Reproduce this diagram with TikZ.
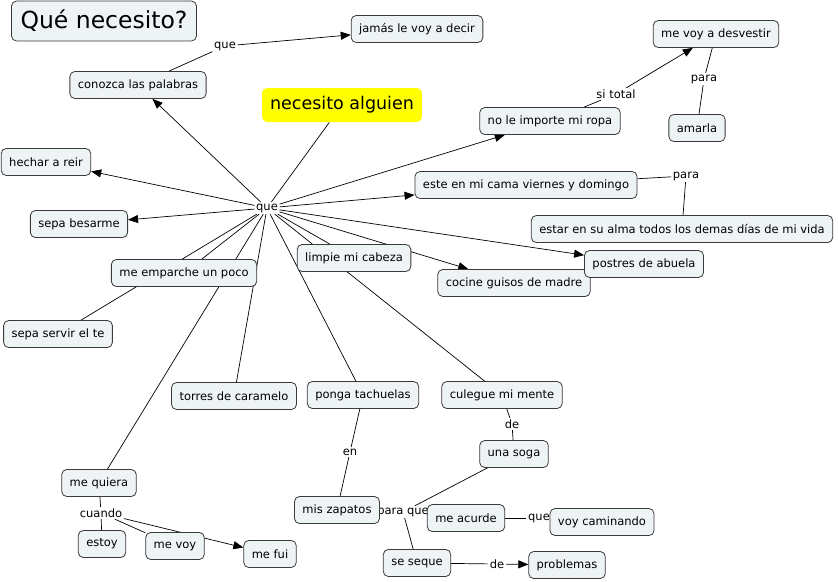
\documentclass[tikz,border=0pt]{standalone}
\usepackage{fontspec}
\setmainfont{DejaVu Sans}
\usetikzlibrary{arrows.meta,backgrounds}
\definecolor{boxfill}{HTML}{EEF3F5}
\definecolor{boxline}{HTML}{3A3A3A}
\definecolor{hiyellow}{HTML}{FFFF00}
\begin{document}
\begin{tikzpicture}[x=1pt,y=-1pt,
  concept/.style={draw=boxline, fill=boxfill, rounded corners=5pt, line width=0.8pt,
    inner xsep=8pt, inner ysep=2pt, minimum height=27pt, font=\fontsize{11.5}{13}\selectfont, text=black},
  link/.style={inner sep=1.5pt, font=\fontsize{11.5}{13}\selectfont, text=black},
  conn/.style={line width=0.7pt, draw=black},
  arr/.style={conn, -{Triangle[length=10pt,width=8pt]}}]
\useasboundingbox (0,0) rectangle (838,581);

% linking phrases
\node[link] (que) at (267,208) {que};
\node[link] (q1) at (225,46) {que};
\node[link] (sitotal) at (616,94) {si total};
\node[link] (para1) at (704,79) {para};
\node[link] (para2) at (686,176) {para};
\node[link] (de1) at (512,424) {de};
\node[link] (en) at (350,452) {en};
\node[link] (cuando) at (101,513) {cuando};
\node[link] (paraque) at (403,512) {para que};
\node[link] (q2) at (539,518) {que};
\node[link] (de2) at (497,564) {de};

% concepts
\node[concept, font=\fontsize{23.5}{26}\selectfont, minimum height=40pt, inner xsep=9pt] (title) at (104,21) {Qué necesito?};
\node[concept, fill=hiyellow, draw=none, font=\fontsize{17.5}{20}\selectfont, minimum height=34pt] (alguien) at (342,105) {necesito alguien};
\node[concept] (jamas) at (417,29) {jamás le voy a decir};
\node[concept] (conozca) at (138,85) {conozca las palabras};
\node[concept] (hechar) at (46,162) {hechar a reir};
\node[concept] (desvestir) at (716,34) {me voy a desvestir};
\node[concept] (amarla) at (697,128) {amarla};
\node[concept] (ropa) at (550,121) {no le importe mi ropa};
\node[concept] (cama) at (526,185) {este en mi cama viernes y domingo};
\node[concept] (alma) at (682,229) {estar en su alma todos los demas días de mi vida};
\node[concept] (cocine) at (514,283) {cocine guisos de madre};
\node[concept] (postres) at (644,264) {postres de abuela};
\node[concept] (besarme) at (79,224) {sepa besarme};
\node[concept] (limpie) at (354,258) {limpie mi cabeza};
\node[concept] (emparche) at (184,273) {me emparche un poco};
\node[concept] (servir) at (58,334) {sepa servir el te};
\node[concept] (torres) at (234,396) {torres de caramelo};
\node[concept] (ponga) at (363,395) {ponga tachuelas};
\node[concept] (culegue) at (502,395) {culegue mi mente};
\node[concept] (soga) at (514,454) {una soga};
\node[concept] (quiera) at (99,483) {me quiera};
\node[concept] (zapatos) at (337,510) {mis zapatos};
\node[concept] (acurde) at (466,518) {me acurde};
\node[concept] (caminando) at (602,522) {voy caminando};
\node[concept] (estoy) at (102,544) {estoy};
\node[concept] (mevoy) at (175,546) {me voy};
\node[concept] (mefui) at (270,554) {me fui};
\node[concept] (seque) at (417,563) {se seque};
\node[concept] (problemas) at (567,565) {problemas};

\begin{scope}[on background layer]
  \draw[conn] (alguien) -- (que);
  \draw[arr] (que) -- (conozca);
  \draw[arr] (que) -- (hechar);
  \draw[arr] (que) -- (besarme);
  \draw[arr] (que) -- (ropa);
  \draw[arr] (que) -- (cama);
  \draw[arr] (que) -- (postres);
  \draw[arr] (que) -- (cocine);
  \draw[conn] (que) -- (limpie);
  \draw[conn] (que) -- (culegue);
  \draw[conn] (que) -- (emparche);
  \draw[conn] (que) -- (servir);
  \draw[conn] (que) -- (quiera);
  \draw[conn] (que) -- (torres);
  \draw[conn] (que) -- (ponga);
  \draw[conn] (conozca) -- (q1);
  \draw[arr] (q1) -- (jamas);
  \draw[conn] (ropa) -- (sitotal);
  \draw[arr] (sitotal) -- (desvestir);
  \draw[conn] (desvestir) -- (para1);
  \draw[conn] (para1) -- (amarla);
  \draw[conn] (cama) -- (para2);
  \draw[conn] (para2) -- (alma);
  \draw[conn] (culegue) -- (de1);
  \draw[conn] (de1) -- (soga);
  \draw[conn] (ponga) -- (en);
  \draw[conn] (en) -- (zapatos);
  \draw[conn] (soga) -- (paraque);
  \draw[conn] (paraque) -- (seque);
  \draw[conn] (paraque) -- (acurde);
  \draw[conn] (acurde) -- (q2);
  \draw[conn] (q2) -- (caminando);
  \draw[conn] (seque) -- (de2);
  \draw[arr] (de2) -- (problemas);
  \draw[conn] (quiera) -- (cuando);
  \draw[conn] (cuando) -- (estoy);
  \draw[conn] (cuando) -- (mevoy);
  \draw[arr] (cuando) -- (mefui);
\end{scope}
\end{tikzpicture}
\end{document}
